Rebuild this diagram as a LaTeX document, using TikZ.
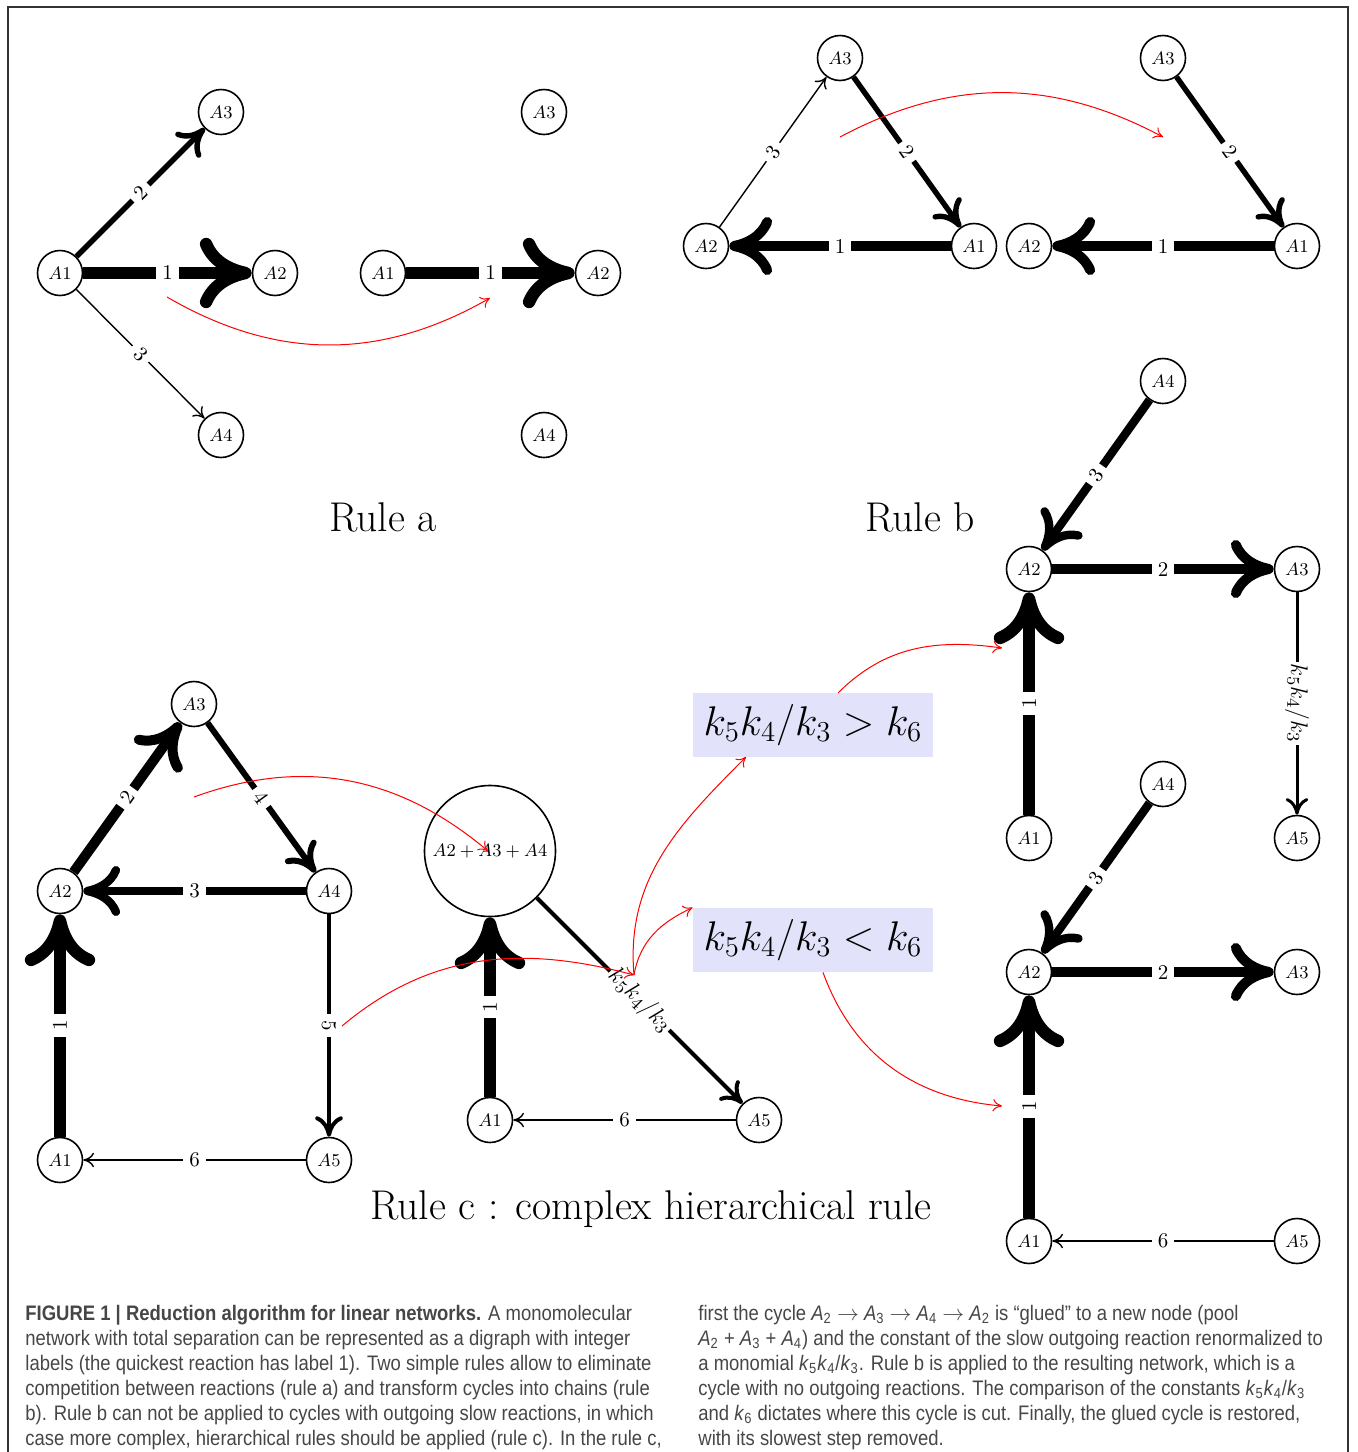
\documentclass[tikz,border=0pt]{standalone}
\usepackage{fontspec}
\usetikzlibrary{arrows.meta}
\newfontfamily\capfont[FakeStretch=0.88]{Liberation Sans}
\definecolor{boxblue}{RGB}{226,227,250}
\definecolor{capgray}{RGB}{70,70,70}
\newcommand{\ksub}[2]{\textit{#1}\textsubscript{#2}}

\begin{document}
\begin{tikzpicture}[x=0.5pt,y=0.5pt,>={To[scale length=1.7,scale width=1.1]},
st/.style={circle,draw,thick,minimum size=22.5pt,inner sep=0pt,font=\fontsize{9.5}{11}\selectfont},
pool/.style={circle,draw,thick,minimum size=65.5pt,inner sep=0pt,font=\fontsize{9.5}{11}\selectfont},
lab/.style={fill=white,inner sep=3pt,sloped,font=\fontsize{10.5}{12}\selectfont},
klab/.style={fill=white,inner sep=1pt,sloped,font=\fontsize{13}{15}\selectfont},
w1/.style={line width=6.2pt,->},
w2/.style={line width=5pt,->},
w3/.style={line width=4.2pt,->},
w4/.style={line width=3pt,->},
w5/.style={line width=2pt,->},
w6/.style={line width=0.7pt,->},
mid/.style={line width=2.7pt,->},
redarr/.style={red,line width=0.5pt,->},
cond/.style={fill=boxblue,minimum width=120pt,minimum height=32pt,font=\fontsize{19.5}{22}\selectfont},
rulename/.style={font=\fontsize{20.8}{24}\selectfont}]
\useasboundingbox (0,0) rectangle (1357,-1452);
\draw[line width=0.75pt,black!80] (8,-1460) -- (8,-7) -- (1348,-7) -- (1348,-1460);

% rule a
\node[st] (aA1) at (60,-273) {$A1$};
\node[st] (aA2) at (275,-273) {$A2$};
\node[st] (aA3) at (221,-112) {$A3$};
\node[st] (aA4) at (221,-435) {$A4$};
\draw[w1] (aA1) -- node[lab] {1} (aA2);
\draw[mid] (aA1) -- node[lab] {2} (aA3);
\draw[w6] (aA1) -- node[lab] {3} (aA4);
\node[st] (rA1) at (383,-273) {$A1$};
\node[st] (rA2) at (598,-273) {$A2$};
\node[st] (rA3) at (544,-112) {$A3$};
\node[st] (rA4) at (544,-435) {$A4$};
\draw[w1] (rA1) -- node[lab] {1} (rA2);
\coordinate (ras) at (167,-297);
\coordinate (rae) at (490,-298);
\draw[redarr] (ras) to[bend right=30] (rae);
\node[rulename] (rulea) at (383,-517) {Rule a};

% rule b
\node[st] (bA3) at (840,-58) {$A3$};
\node[st] (bA2) at (706,-246) {$A2$};
\node[st] (bA1) at (974,-246) {$A1$};
\draw[w6] (bA2) -- node[lab] {3} (bA3);
\draw[mid] (bA3) -- node[lab] {2} (bA1);
\draw[w2] (bA1) -- node[lab] {1} (bA2);
\node[st] (sA3) at (1163,-58) {$A3$};
\node[st] (sA2) at (1029,-246) {$A2$};
\node[st] (sA1) at (1297,-246) {$A1$};
\draw[mid] (sA3) -- node[lab] {2} (sA1);
\draw[w2] (sA1) -- node[lab] {1} (sA2);
\coordinate (rbs) at (840,-137);
\coordinate (rbe) at (1163,-137);
\draw[redarr] (rbs) to[bend left=28] (rbe);
\node[rulename] (ruleb) at (920,-517) {Rule b};

% rule c
\node[st] (cA3) at (194,-704) {$A3$};
\node[st] (cA2) at (60,-891) {$A2$};
\node[st] (cA4) at (329,-891) {$A4$};
\node[st] (cA1) at (60,-1160) {$A1$};
\node[st] (cA5) at (329,-1160) {$A5$};
\draw[w1] (cA1) -- node[lab] {1} (cA2);
\draw[w2] (cA2) -- node[lab] {2} (cA3);
\draw[w4] (cA3) -- node[lab] {4} (cA4);
\draw[w3] (cA4) -- node[lab] {3} (cA2);
\draw[w5] (cA4) -- node[lab] {5} (cA5);
\draw[w6] (cA5) -- node[lab] {6} (cA1);

\node[pool] (pool) at (490,-851) {$A2+A3+A4$};
\node[st] (mA1) at (490,-1120) {$A1$};
\node[st] (mA5) at (759,-1120) {$A5$};
\draw[w1] (mA1) -- node[lab] {1} (pool);
\draw[w5] (pool) -- node[klab] {$k_5k_4/k_3$} (mA5);
\draw[w6] (mA5) -- node[lab] {6} (mA1);

\node[cond] (gt) at (813,-725) {$k_5k_4/k_3>k_6$};
\node[cond] (lt) at (813,-940) {$k_5k_4/k_3<k_6$};

\coordinate (rc1s) at (194,-797);
\coordinate (rc1e) at (488,-851);
\coordinate (rc2s) at (342,-1026);
\coordinate (split) at (634,-975);
\coordinate (gtin) at (746,-757);
\coordinate (gtout) at (838,-693);
\coordinate (topin) at (1002,-648);
\coordinate (botin) at (1002,-1106);
\draw[redarr] (rc1s) to[out=20,in=140] (rc1e);
\draw[redarr] (rc2s) to[out=40,in=165] (split);
\draw[redarr] (split) to[out=95,in=225] (gtin);
\draw[redarr] (split) to[out=80,in=205] (lt.north west);
\draw[redarr] (gtout) to[out=45,in=172] (topin);
\draw[redarr] ([xshift=5pt]lt.south) to[out=-70,in=175] (botin);

\node[st] (tA4) at (1163,-381) {$A4$};
\node[st] (tA2) at (1029,-569) {$A2$};
\node[st] (tA3) at (1297,-569) {$A3$};
\node[st] (tA1) at (1029,-838) {$A1$};
\node[st] (tA5) at (1297,-838) {$A5$};
\draw[w3] (tA4) -- node[lab] {3} (tA2);
\draw[w2] (tA2) -- node[lab] {2} (tA3);
\draw[w1] (tA1) -- node[lab] {1} (tA2);
\draw[line width=1.5pt,->] (tA3) -- node[klab] {$k_5k_4/k_3$} (tA5);

\node[st] (uA4) at (1163,-784) {$A4$};
\node[st] (uA2) at (1029,-972) {$A2$};
\node[st] (uA3) at (1297,-972) {$A3$};
\node[st] (uA1) at (1029,-1241) {$A1$};
\node[st] (uA5) at (1297,-1241) {$A5$};
\draw[w3] (uA4) -- node[lab] {3} (uA2);
\draw[w2] (uA2) -- node[lab] {2} (uA3);
\draw[w1] (uA1) -- node[lab] {1} (uA2);
\draw[w6] (uA5) -- node[lab] {6} (uA1);

\node[rulename] (rulec) at (651,-1209) {Rule c : complex hierarchical rule};

% caption
\node[anchor=north west,align=left,inner sep=0pt,text=capgray,font=\capfont\fontsize{10.5}{12.5}\selectfont] (capl) at (25,-1305)
{\textbf{FIGURE 1 | Reduction algorithm for linear networks.} A monomolecular\\
network with total separation can be represented as a digraph with integer\\
labels (the quickest reaction has label 1). Two simple rules allow to eliminate\\
competition between reactions (rule a) and transform cycles into chains (rule\\
b). Rule b can not be applied to cycles with outgoing slow reactions, in which\\
case more complex, hierarchical rules should be applied (rule c). In the rule c,};
\node[anchor=north west,align=left,inner sep=0pt,text=capgray,font=\capfont\fontsize{10.5}{12.5}\selectfont] (capr) at (698,-1305)
{first the cycle \ksub{A}{2} $\rightarrow$ \ksub{A}{3} $\rightarrow$ \ksub{A}{4} $\rightarrow$ \ksub{A}{2} is “glued” to a new node (pool\\
\ksub{A}{2} + \ksub{A}{3} + \ksub{A}{4}) and the constant of the slow outgoing reaction renormalized to\\
a monomial \ksub{k}{5}\ksub{k}{4}/\ksub{k}{3}. Rule b is applied to the resulting network, which is a\\
cycle with no outgoing reactions. The comparison of the constants \ksub{k}{5}\ksub{k}{4}/\ksub{k}{3}\\
and \ksub{k}{6} dictates where this cycle is cut. Finally, the glued cycle is restored,\\
with its slowest step removed.};
\end{tikzpicture}
\end{document}
